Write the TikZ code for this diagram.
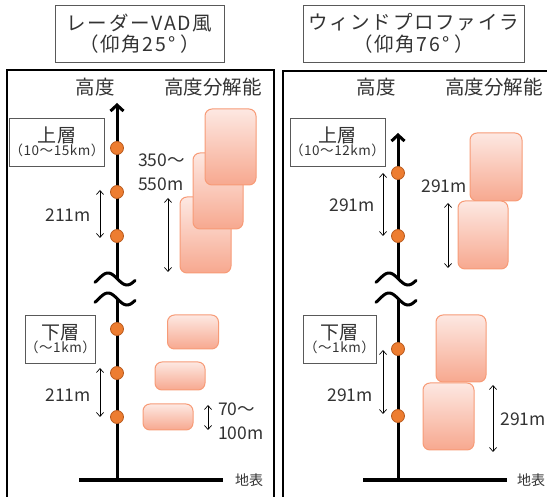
\documentclass[tikz,border=0pt]{standalone}
\usepackage{fontspec}
\setmainfont{Noto Sans CJK JP}
\newfontfamily\spacedfont[LetterSpace=9]{Noto Sans CJK JP}
\newfontfamily\smallspaced[LetterSpace=4]{Noto Sans CJK JP}
\usetikzlibrary{arrows.meta}
\definecolor{txt}{HTML}{333333}
\definecolor{dotfill}{HTML}{ED7D31}
\definecolor{dotline}{HTML}{B85A1E}
\definecolor{rtop}{HTML}{FDE8E2}
\definecolor{rbot}{HTML}{F7A88F}
\definecolor{rline}{HTML}{F79B77}
\definecolor{boxline}{HTML}{595959}
\begin{document}
\begin{tikzpicture}[x=1pt,y=-1pt,
 panelframe/.style={line width=2pt, draw=black},
 titlebox/.style={draw=boxline, line width=0.9pt, inner sep=0, align=center, text=txt, font=\spacedfont\fontsize{19.5}{21.5}\selectfont},
 layerbox/.style={draw=boxline, line width=0.9pt, inner sep=0, align=center, text=txt, font=\smallspaced\fontsize{13.5}{15}\selectfont},
 hdr/.style={text=txt, font=\fontsize{19.5}{21}\selectfont, inner sep=0},
 lbl/.style={text=txt, font=\fontsize{17.5}{24}\selectfont, inner sep=0, align=left},
 axisline/.style={line width=3pt, draw=black},
 groundline/.style={line width=3.5pt, draw=black},
 obsdot/.style={circle, fill=dotfill, draw=dotline, line width=0.8pt, minimum size=13pt, inner sep=0},
 cell/.style={rectangle, rounded corners=7pt, top color=rtop, bottom color=rbot, draw=rline, line width=1pt, inner sep=0},
 dbl/.style={line width=0.7pt, draw=black, {Straight Barb[length=4pt,width=7pt]}-{Straight Barb[length=4pt,width=7pt]}},
 tildeline/.style={line width=3pt, draw=black, line cap=round},
 smalltxt/.style={text=txt, font=\fontsize{14}{16}\selectfont, inner sep=0},
 axtip/.style={-{Straight Barb[length=6pt,width=13pt]}},
]
\useasboundingbox (0,0) rectangle (547,497);
% panels
\draw[panelframe] (7,530) -- (7,70) -- (274,70) -- (274,530);
\draw[panelframe] (283,530) -- (283,71) -- (580,71);
% titles
\node[titlebox, minimum width=169pt, minimum height=57pt] (t1) at (139.5,33.5) {レーダーVAD風\\（仰角25°\kern5pt）};
\node[titlebox, minimum width=221pt, minimum height=57pt] (t2) at (413.5,33.5) {ウィンドプロファイラ\\（仰角76°\kern5pt）};
% headers
\node[hdr] (h1a) at (95,87) {高度};
\node[hdr] (h1b) at (213,87) {高度分解能};
\node[hdr] (h2a) at (376,87) {高度};
\node[hdr] (h2b) at (494,87) {高度分解能};

% ===== left panel =====
\coordinate (ltip) at (117,103);
\coordinate (lbrk1) at (117,279);
\coordinate (lbrk2) at (117,299);
\coordinate (lbase) at (117,480);
\coordinate (lgl) at (79,480);
\coordinate (lgr) at (223,480);
\draw[axisline, axtip] (lbrk1) -- (ltip);
\draw[axisline] (lbrk2) -- (lbase);
\draw[groundline] (lgl) -- (lgr);
\draw[tildeline, shift={(117,279)}] plot[domain=-22:18, samples=30, smooth] (\x, {6*sin(180*(\x-0.5)/19)});
\draw[tildeline, shift={(117,299)}] plot[domain=-22:18, samples=30, smooth] (\x, {6*sin(180*(\x-0.5)/19)});
\node[smalltxt, anchor=west] (lg) at (235,480) {地表};
\node[obsdot] (ld1) at (117,148) {};
\node[obsdot] (ld2) at (117,192) {};
\node[obsdot] (ld3) at (117,236) {};
\node[obsdot] (ld4) at (117,329) {};
\node[obsdot] (ld5) at (117,373) {};
\node[obsdot] (ld6) at (117,417) {};
\node[layerbox, minimum width=88pt, minimum height=48pt] (lup) at (57,142) {{\fontsize{19}{20}\selectfont 上層}\\[-2pt]（10～15km）};
\node[layerbox, minimum width=69pt, minimum height=48pt] (llo) at (60.5,339) {{\fontsize{19}{20}\selectfont 下層}\\[-2pt]（～1km）};
% cells
\node[cell, minimum width=51pt, minimum height=76pt] (lr3) at (205.5,235) {};
\node[cell, minimum width=50pt, minimum height=76pt] (lr2) at (218,191) {};
\node[cell, minimum width=51pt, minimum height=76pt] (lr1) at (230.5,147) {};
\node[cell, minimum width=51pt, minimum height=34pt] (lra) at (193,332) {};
\node[cell, minimum width=50pt, minimum height=28pt] (lrb) at (180,376) {};
\node[cell, minimum width=50pt, minimum height=26pt] (lrc) at (168,417) {};
% dimension arrows
\coordinate (la1) at (100,190); \coordinate (la2) at (100,238);
\coordinate (la3) at (100,368); \coordinate (la4) at (100,417);
\coordinate (la5) at (168,198); \coordinate (la6) at (168,272);
\coordinate (la7) at (208,405); \coordinate (la8) at (208,430);
\draw[dbl] (la1) -- (la2);
\draw[dbl] (la3) -- (la4);
\draw[dbl] (la5) -- (la6);
\draw[dbl] (la7) -- (la8);
\node[lbl] (ll1) at (68,215) {211m};
\node[lbl] (ll2) at (68,395) {211m};
\node[lbl, anchor=west] (ll3) at (138,172) {350～\\550m};
\node[lbl, anchor=west] (ll4) at (218,421) {70～\\100m};

% ===== right panel =====
\coordinate (rtip) at (398,133);
\coordinate (rbrk1) at (398,279);
\coordinate (rbrk2) at (398,299);
\coordinate (rbase) at (398,480);
\coordinate (rgl) at (363,480);
\coordinate (rgr) at (507,480);
\draw[axisline, axtip] (rbrk1) -- (rtip);
\draw[axisline] (rbrk2) -- (rbase);
\draw[groundline] (rgl) -- (rgr);
\draw[tildeline, shift={(398,279)}] plot[domain=-22:18, samples=30, smooth] (\x, {6*sin(180*(\x-0.5)/19)});
\draw[tildeline, shift={(398,299)}] plot[domain=-22:18, samples=30, smooth] (\x, {6*sin(180*(\x-0.5)/19)});
\node[smalltxt, anchor=west] (rg) at (517,480) {地表};
\node[obsdot] (rd1) at (398,173) {};
\node[obsdot] (rd2) at (398,236) {};
\node[obsdot] (rd3) at (398,349) {};
\node[obsdot] (rd4) at (398,416) {};
\node[layerbox, minimum width=95pt, minimum height=48pt] (rup) at (337.5,142) {{\fontsize{19}{20}\selectfont 上層}\\[-2pt]（10～12km）};
\node[layerbox, minimum width=73pt, minimum height=48pt] (rlo) at (339.5,339) {{\fontsize{19}{20}\selectfont 下層}\\[-2pt]（～1km）};
\node[cell, minimum width=52pt, minimum height=68pt] (rrA) at (496,167) {};
\node[cell, minimum width=50pt, minimum height=68pt] (rrB) at (483,235) {};
\node[cell, minimum width=50pt, minimum height=67pt] (rrC) at (461,348.5) {};
\node[cell, minimum width=51pt, minimum height=67pt] (rrD) at (448.5,416.5) {};
\coordinate (ra1) at (383,173); \coordinate (ra2) at (383,236);
\coordinate (ra3) at (448,203); \coordinate (ra4) at (448,268);
\coordinate (ra5) at (383,350); \coordinate (ra6) at (383,414);
\coordinate (ra7) at (493,385); \coordinate (ra8) at (493,452);
\draw[dbl] (ra1) -- (ra2);
\draw[dbl] (ra3) -- (ra4);
\draw[dbl] (ra5) -- (ra6);
\draw[dbl] (ra7) -- (ra8);
\node[lbl] (rl1) at (352,205) {291m};
\node[lbl] (rl2) at (444,186) {291m};
\node[lbl] (rl3) at (350,395) {291m};
\node[lbl] (rl4) at (523,419) {291m};
\end{tikzpicture}
\end{document}
